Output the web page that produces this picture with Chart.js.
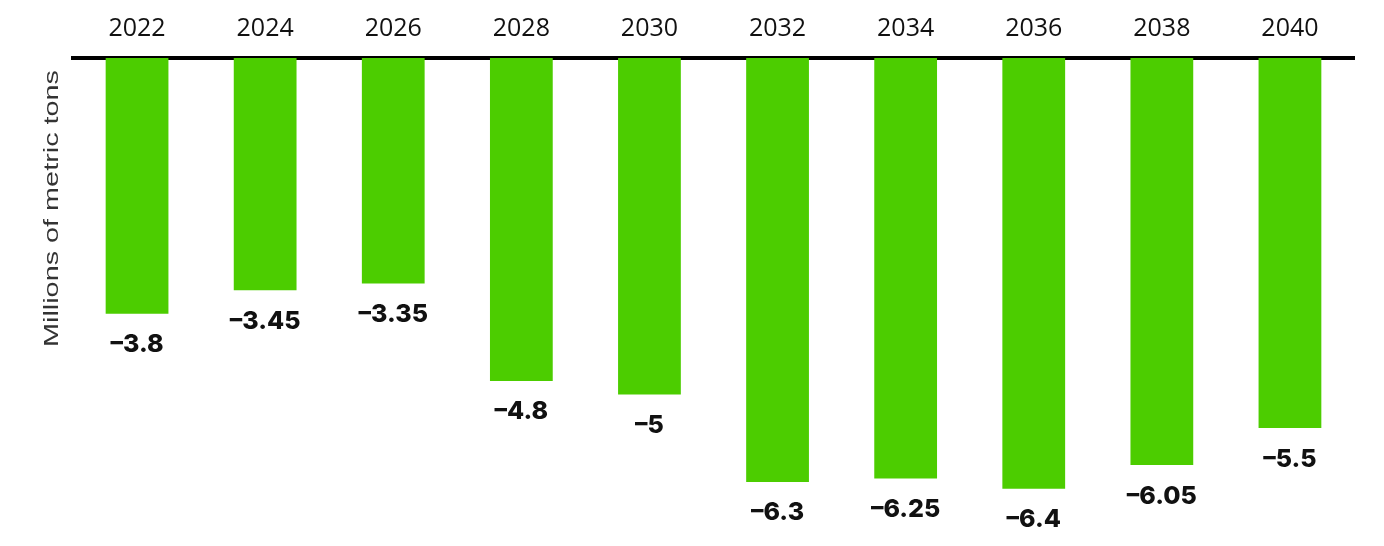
<!DOCTYPE html>
<html>
<head>
<meta charset="utf-8">
<script src="https://cdn.jsdelivr.net/npm/chart.js@4/dist/chart.umd.min.js"></script>
<style>
  html, body { margin: 0; padding: 0; background: #fff; }
  #wrap { width: 1384px; height: 546px; }
</style>
</head>
<body>
<div id="wrap"><canvas id="chBars"></canvas></div>
<script>
var years = ['2022', '2024', '2026', '2028', '2030', '2032', '2034', '2036', '2038', '2040'];
var values = [-3.8, -3.45, -3.35, -4.8, -5, -6.3, -6.25, -6.4, -6.05, -5.5];
var yTitle = 'Millions of metric tons';
var barColor = '#4ccd00';

/* value labels under each bar + rotated axis title */
var valueLabels = {
    id: 'valueLabels',
    afterDatasetsDraw: function(chart) {
        var ctx = chart.ctx;
        var meta = chart.getDatasetMeta(0);
        ctx.save();
        ctx.font = '800 25px Inter, "DejaVu Sans", sans-serif';
        ctx.fillStyle = '#111';
        ctx.textAlign = 'center';
        ctx.textBaseline = 'middle';
        meta.data.forEach(function(bar, i) {
            ctx.fillText(String(values[i]).replace('-', '\u2013'), bar.x, bar.y + 31);
        });
        ctx.restore();

        // title is drawn a bit wide, like in the original picture
        ctx.save();
        ctx.font = '21px "Liberation Sans", Arial, sans-serif';
        var w = ctx.measureText(yTitle).width;
        ctx.translate(52, chart.chartArea.top + 12);
        ctx.rotate(-Math.PI / 2);
        ctx.scale(277 / w, 1);
        ctx.fillStyle = '#333';
        ctx.textAlign = 'right';
        ctx.textBaseline = 'middle';
        ctx.fillText(yTitle, 0, 0);
        ctx.restore();
    }
};

new Chart(document.getElementById('chBars'), {
    type: 'bar',
    data: {
        labels: years,
        datasets: [{
            data: values,
            backgroundColor: barColor,
            borderWidth: 0,
            categoryPercentage: 1,
            barPercentage: 0.49
        }]
    },
    options: {
        responsive: true,
        maintainAspectRatio: false,
        animation: false,
        layout: { padding: { left: 0, right: 30, top: 0, bottom: 17 } },
        plugins: { legend: { display: false }, tooltip: { enabled: false } },
        scales: {
            x: {
                position: 'top',
                grid: { display: false, drawTicks: false },
                border: { display: true, color: '#000', width: 4 },
                ticks: { color: '#111', padding: 14, font: { family: '"Open Sans", sans-serif', size: 25 } }
            },
            y: {
                min: -7,
                max: 0,
                grid: { display: false, drawTicks: false },
                border: { display: false },
                ticks: { display: false },
                afterFit: function(scale) { scale.width = 73; }
            }
        }
    },
    plugins: [valueLabels]
});
</script>
</body>
</html>
